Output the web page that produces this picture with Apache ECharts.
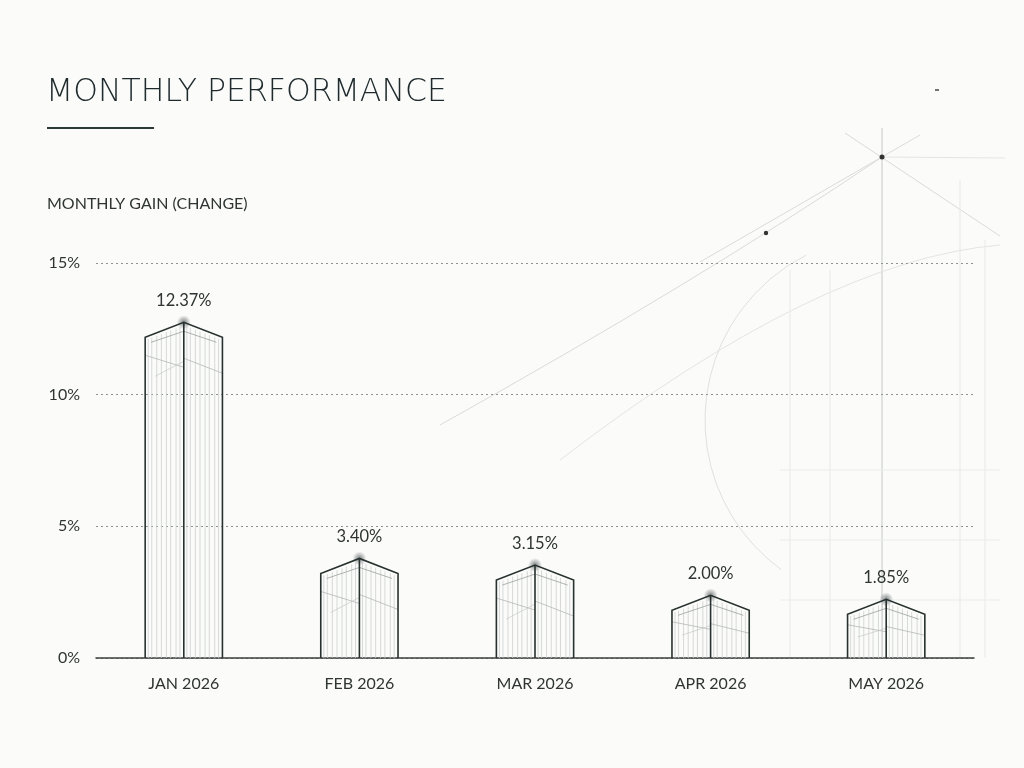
<!DOCTYPE html>
<html>
<head>
<meta charset="utf-8">
<script src="https://cdn.jsdelivr.net/npm/echarts@6/dist/echarts.min.js"></script>
<style>
html,body{margin:0;padding:0;background:#fbfbfa;}
#chart{width:1024px;height:768px;}
</style>
</head>
<body>
<div id="chart"></div>
<script>
var months = ['JAN 2026', 'FEB 2026', 'MAR 2026', 'APR 2026', 'MAY 2026'];
var gains = [12.37, 3.40, 3.15, 2.00, 1.85];
var yTicks = [0, 5, 10, 15];

var ink = '#27312f';
var hatch = '#cdd1cf';
var txtFont = 'Lato, "DejaVu Sans", sans-serif';

// prism shaped bar with a peaked roof
function renderPrism(params, api) {
	var v = api.value(1);
	var top = api.coord([api.value(0), v]);
	var base = api.coord([api.value(0), 0]);
	var bw = api.size([1, 0])[0] * 0.44;
	var cx = top[0], L = cx - bw / 2, R = cx + bw / 2;
	var peakY = top[1] - 10, shY = top[1] + 5, by = base[1];
	var kids = [];
	function roofY(x) {
		var t = x < cx ? (x - L) / (cx - L) : (R - x) / (R - cx);
		return shY + (peakY - shY) * t;
	}
	var fr = [0.08, 0.17, 0.3, 0.42, 0.55, 0.66, 0.8, 0.9];
	for (var i = 0; i < fr.length; i++) {
		var xl = L + (cx - L) * fr[i];
		var xr = cx + (R - cx) * fr[i];
		kids.push({type: 'line', shape: {x1: xl, y1: roofY(xl) + 3, x2: xl, y2: by}, style: {stroke: hatch, lineWidth: 0.8}});
		kids.push({type: 'line', shape: {x1: xr, y1: roofY(xr) + 3, x2: xr, y2: by}, style: {stroke: hatch, lineWidth: 0.8}});
	}
	// inner roof + cross lines
	kids.push({type: 'polyline', shape: {points: [[L + 6, shY + 5], [cx, peakY + 9], [R - 6, shY + 5]]}, style: {stroke: '#9aa19e', lineWidth: 0.8, fill: null}});
	var h = by - shY;
	var d = Math.min(30, h * 0.4);
	kids.push({type: 'line', shape: {x1: L, y1: shY + d * 0.6, x2: cx, y2: shY + d}, style: {stroke: '#b3b8b6', lineWidth: 0.8}});
	kids.push({type: 'line', shape: {x1: cx, y1: shY + d * 0.7, x2: R, y2: shY + d * 1.2}, style: {stroke: '#b3b8b6', lineWidth: 0.8}});
	kids.push({type: 'line', shape: {x1: L + 10, y1: shY + d * 1.3, x2: cx, y2: shY + d * 0.8}, style: {stroke: '#c4c8c6', lineWidth: 0.7}});
	// outline
	kids.push({type: 'polyline', shape: {points: [[L, by], [L, shY], [cx, peakY], [R, shY], [R, by]]}, style: {stroke: ink, lineWidth: 1.6, fill: null}});
	kids.push({type: 'line', shape: {x1: cx, y1: peakY, x2: cx, y2: by}, style: {stroke: ink, lineWidth: 1.6}});
	// glow at the peak
	kids.push({type: 'circle', shape: {cx: cx, cy: peakY, r: 7},
		style: {fill: new echarts.graphic.RadialGradient(0.5, 0.5, 0.5, [
			{offset: 0, color: 'rgba(40,50,48,0.6)'}, {offset: 1, color: 'rgba(40,50,48,0)'}])}});
	kids.push({type: 'text', style: {x: cx, y: peakY - 13, text: v.toFixed(2) + '%', align: 'center', verticalAlign: 'bottom',
		fill: '#2d3432', font: '16.5px ' + txtFont}});
	return {type: 'group', children: kids};
}

var faint = '#d9dcdb';
var bgLines = [
	{type: 'line', shape: {x1: 882, y1: 128, x2: 882, y2: 658}, style: {stroke: '#c6cac8', lineWidth: 1}},
	{type: 'line', shape: {x1: 845, y1: 133, x2: 1000, y2: 236}, style: {stroke: faint, lineWidth: 1}},
	{type: 'line', shape: {x1: 920, y1: 135, x2: 700, y2: 262}, style: {stroke: faint, lineWidth: 1}},
	{type: 'line', shape: {x1: 882, y1: 157, x2: 1005, y2: 158}, style: {stroke: '#e4e6e5', lineWidth: 1}},
	{type: 'bezierCurve', shape: {x1: 440, y1: 425, cpx1: 700, cpy1: 280, x2: 882, y2: 157}, style: {stroke: faint, lineWidth: 1, fill: null}},
	{type: 'bezierCurve', shape: {x1: 560, y1: 460, cpx1: 820, cpy1: 260, x2: 1000, y2: 245}, style: {stroke: '#e3e5e4', lineWidth: 1, fill: null}},
	{type: 'arc', shape: {cx: 890, cy: 420, r: 185, startAngle: Math.PI * 0.7, endAngle: Math.PI * 1.35}, style: {stroke: '#dfe2e1', lineWidth: 1, fill: null}},
	{type: 'line', shape: {x1: 790, y1: 270, x2: 790, y2: 658}, style: {stroke: '#e8eae9', lineWidth: 1}},
	{type: 'line', shape: {x1: 830, y1: 270, x2: 830, y2: 658}, style: {stroke: '#e8eae9', lineWidth: 1}},
	{type: 'line', shape: {x1: 960, y1: 180, x2: 960, y2: 658}, style: {stroke: '#e6e8e7', lineWidth: 1}},
	{type: 'line', shape: {x1: 985, y1: 240, x2: 985, y2: 658}, style: {stroke: '#e8eae9', lineWidth: 1}},
	{type: 'line', shape: {x1: 780, y1: 470, x2: 1000, y2: 470}, style: {stroke: '#eaeceb', lineWidth: 1}},
	{type: 'line', shape: {x1: 780, y1: 540, x2: 1000, y2: 540}, style: {stroke: '#eaeceb', lineWidth: 1}},
	{type: 'line', shape: {x1: 780, y1: 600, x2: 1000, y2: 600}, style: {stroke: '#eaeceb', lineWidth: 1}},
	{type: 'circle', shape: {cx: 882, cy: 157, r: 2.5}, style: {fill: '#333'}},
	{type: 'circle', shape: {cx: 766, cy: 233, r: 2.2}, style: {fill: '#333'}},
	{type: 'line', shape: {x1: 935, y1: 90, x2: 939, y2: 90}, style: {stroke: '#444', lineWidth: 1.5}}
];
for (var k = 0; k < bgLines.length; k++) bgLines[k].z = -10;

var chart = echarts.init(document.getElementById('chart'));
var option = {
	backgroundColor: '#fbfbfa',
	title: {
		text: 'MONTHLY PERFORMANCE',
		left: 41, top: 72,
		textStyle: {fontFamily: '"DejaVu Sans", sans-serif', fontWeight: 200, fontSize: 31.5, color: '#1f2a2c'}
	},
	graphic: bgLines.concat([
		{type: 'line', shape: {x1: 47, y1: 128, x2: 154, y2: 128}, style: {stroke: '#2c3a37', lineWidth: 2}},
		{type: 'text', left: 47, top: 196, style: {text: 'MONTHLY GAIN (CHANGE)', fill: '#2e3533', font: '16px ' + txtFont}}
	]),
	grid: {left: 96, right: 50, top: 263, bottom: 110},
	xAxis: {
		type: 'category',
		data: months,
		axisLine: {lineStyle: {color: '#3a403e', width: 1.5}},
		axisTick: {show: false},
		axisLabel: {color: '#2e3533', fontSize: 16, margin: 18, fontFamily: txtFont}
	},
	yAxis: {
		type: 'value',
		min: yTicks[0], max: yTicks[yTicks.length - 1], interval: 5,
		axisLine: {show: false},
		axisTick: {show: false},
		axisLabel: {formatter: '{value}%', color: '#2e3533', fontSize: 16, margin: 16, fontFamily: txtFont},
		splitLine: {lineStyle: {color: '#8e9391', type: [2, 3], width: 1}}
	},
	series: [{
		type: 'custom',
		renderItem: renderPrism,
		data: gains.map(function (g, i) { return [i, g]; }),
		z: 5
	}]
};
chart.setOption(option);
</script>
</body>
</html>
